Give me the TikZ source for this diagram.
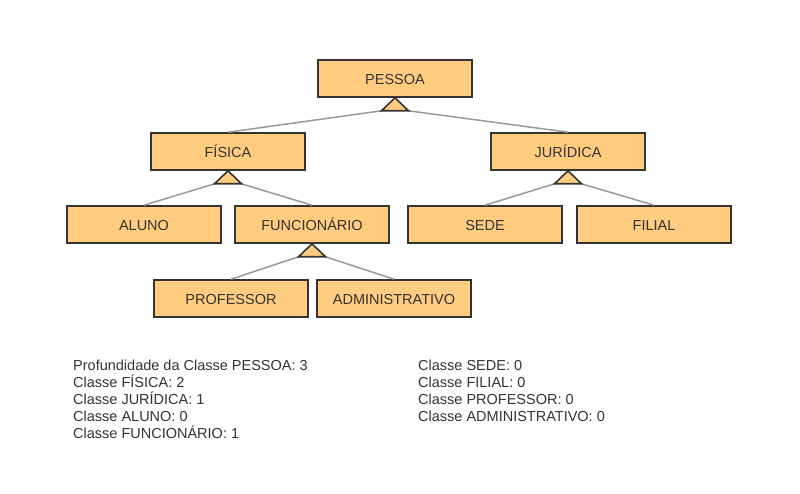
\documentclass[tikz,border=0pt]{standalone}
\usepackage{fontspec}
\setmainfont{Liberation Sans}
\usetikzlibrary{calc}
\definecolor{caixa}{HTML}{FFCC80}
\definecolor{borda}{HTML}{333333}
\definecolor{ligacao}{HTML}{999999}

\begin{document}
\begin{tikzpicture}[
      x=1pt, y=-1pt,
      font=\fontsize{14.5}{17}\selectfont, text=borda,
      classe/.style={draw=borda, line width=1.6pt, fill=caixa, minimum width=154pt,
                     minimum height=37pt, inner sep=0pt, text height=12.4pt, text depth=0pt},
      heranca/.style={draw=borda, line width=1.6pt, fill=caixa, line join=miter},
      ramo/.style={draw=ligacao, line width=1.5pt},
      legenda/.style={align=left, anchor=north west, inner sep=0pt}]
    \useasboundingbox (0,0) rectangle (800,494);
    % classes
    \node[classe] (pessoa) at (395,78.5) {PESSOA};
    \node[classe] (fisica) at (228,151.5) {FÍSICA};
    \node[classe] (juridica) at (568,151.5) {JURÍDICA};
    \node[classe] (aluno) at (144,224.5) {ALUNO};
    \node[classe] (funcionario) at (312,224.5) {FUNCIONÁRIO};
    \node[classe] (sede) at (485,224.5) {SEDE};
    \node[classe] (filial) at (654,224.5) {FILIAL};
    \node[classe] (professor) at (231,298.5) {PROFESSOR};
    \node[classe] (administrativo) at (394,298.5) {ADMINISTRATIVO};
    % ligacoes
    \coordinate (tp1) at ($(pessoa.south)+(-13.5,13)$);   \coordinate (tp2) at ($(pessoa.south)+(13.5,13)$);
    \coordinate (tf1) at ($(fisica.south)+(-13.5,13)$);   \coordinate (tf2) at ($(fisica.south)+(13.5,13)$);
    \coordinate (tj1) at ($(juridica.south)+(-13.5,13)$); \coordinate (tj2) at ($(juridica.south)+(13.5,13)$);
    \coordinate (tu1) at ($(funcionario.south)+(-13.5,13)$); \coordinate (tu2) at ($(funcionario.south)+(13.5,13)$);
    \draw[ramo] (tp1) -- (fisica.north); \draw[ramo] (tp2) -- (juridica.north);
    \draw[ramo] (tf1) -- (aluno.north); \draw[ramo] (tf2) -- (funcionario.north);
    \draw[ramo] (tj1) -- (sede.north); \draw[ramo] (tj2) -- (filial.north);
    \draw[ramo] (tu1) -- (professor.north); \draw[ramo] (tu2) -- (administrativo.north);
    % triangulos
    \draw[heranca] (pessoa.south) -- (tp1) -- (tp2) -- cycle;
    \draw[heranca] (fisica.south) -- (tf1) -- (tf2) -- cycle;
    \draw[heranca] (juridica.south) -- (tj1) -- (tj2) -- cycle;
    \draw[heranca] (funcionario.south) -- (tu1) -- (tu2) -- cycle;
    % profundidades
    \node[legenda] (prof1) at (73,359.6) {Profundidade da Classe PESSOA: 3\\ Classe FÍSICA: 2\\
      Classe JURÍDICA: 1\\ Classe ALUNO: 0\\ Classe FUNCIONÁRIO: 1};
    \node[legenda] (prof2) at (418,359.8) {Classe SEDE: 0\\ Classe FILIAL: 0\\
      Classe PROFESSOR: 0\\ Classe ADMINISTRATIVO: 0};
  \end{tikzpicture}
\end{document}
